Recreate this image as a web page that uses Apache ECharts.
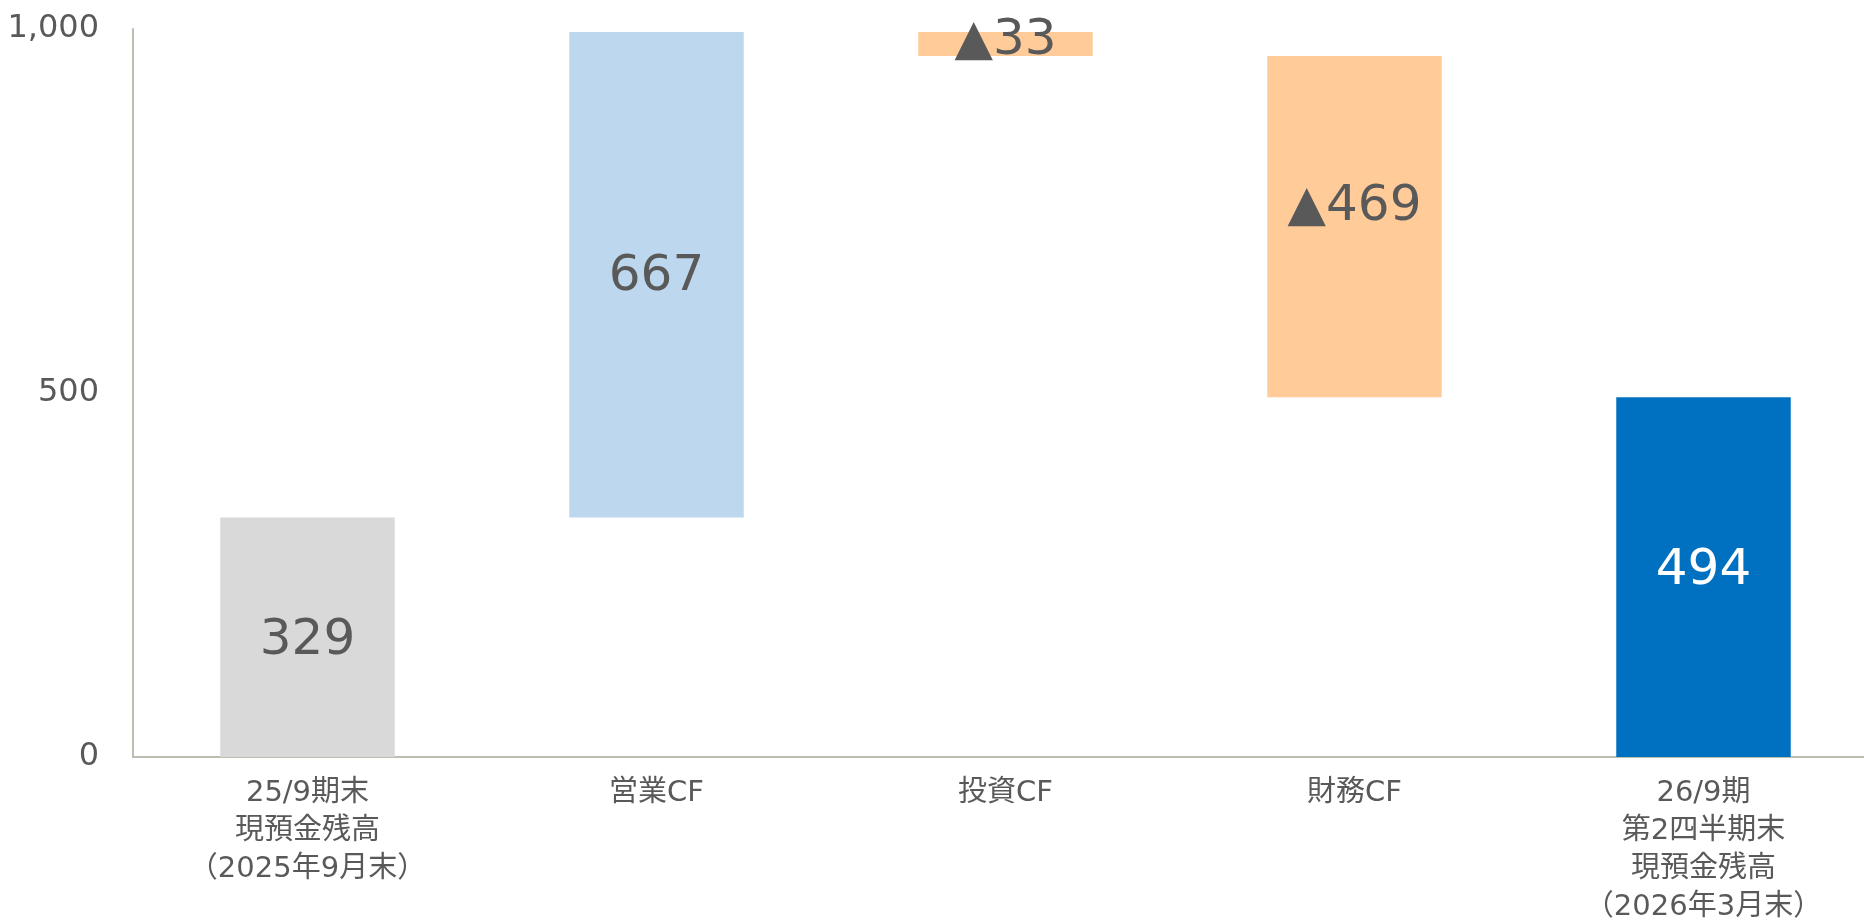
<!DOCTYPE html>
<html><head><meta charset="utf-8">
<script src="https://cdn.jsdelivr.net/npm/echarts@6/dist/echarts.min.js"></script>
<style>html,body{margin:0;padding:0;background:#fff}#c{width:1864px;height:922px}</style>
</head><body><div id="c"></div>
<script>
const categories = ['25/9期末\n現預金残高\n（2025年9月末）', '営業CF', '投資CF', '財務CF', '26/9期\n第2四半期末\n現預金残高\n（2026年3月末）'];
const values = [329, 667, -33, -469, 494];
const isTotal = [true, false, false, false, true];
const barColors = ['#D9D9D9', '#BDD7EE', '#FFCC99', '#FFCC99', '#0070C0'];
const labelColors = ['#595959', '#595959', '#595959', '#595959', '#FFFFFF'];
const yTicks = [0, 500, 1000];

// waterfall: base (invisible) + visible height
let running = 0;
const base = [], visible = [];
values.forEach((v, i) => {
  if (isTotal[i]) { base.push(0); visible.push(v); running = v; }
  else if (v >= 0) { base.push(running); visible.push(v); running += v; }
  else { running += v; base.push(running); visible.push(-v); }
});

const labelOffsets = [[0, 4], [0, 2], [0, -3], [0, -20], [0, -6]];
const FONT = '"DejaVu Sans", "Noto Sans CJK JP", sans-serif';
const chart = echarts.init(document.getElementById('c'));
chart.setOption({
  animation: false,
  grid: { left: 133, right: -14, top: 29, bottom: 165, containLabel: false, outerBoundsMode: 'none' },
  xAxis: {
    type: 'category', data: categories,
    axisLine: { lineStyle: { color: '#BFBCB2', width: 2 } },
    axisTick: { show: false },
    axisLabel: { color: '#595959', fontSize: 29, lineHeight: 38, fontFamily: FONT, margin: 17, interval: 0 }
  },
  yAxis: {
    type: 'value', min: yTicks[0], max: yTicks[yTicks.length - 1], interval: 500,
    axisLine: { show: true, lineStyle: { color: '#BFBCB2', width: 2 } },
    axisTick: { show: false },
    splitLine: { show: false },
    axisLabel: { color: '#595959', fontSize: 32, fontFamily: FONT, margin: 34,
      formatter: v => v.toLocaleString('en-US') }
  },
  series: [
    { type: 'bar', stack: 'w', data: base, itemStyle: { color: 'transparent' }, barWidth: '50%', silent: true },
    { type: 'bar', stack: 'w', barWidth: '50%',
      data: visible.map((v, i) => ({
        value: v,
        itemStyle: { color: barColors[i] },
        label: { color: labelColors[i], offset: labelOffsets[i] }
      })),
      label: {
        show: true, position: 'inside', fontSize: 50, fontFamily: FONT,
        formatter: p => (values[p.dataIndex] < 0 ? '▲' + (-values[p.dataIndex]) : String(values[p.dataIndex]))
      }
    }
  ]
});
</script></body></html>
